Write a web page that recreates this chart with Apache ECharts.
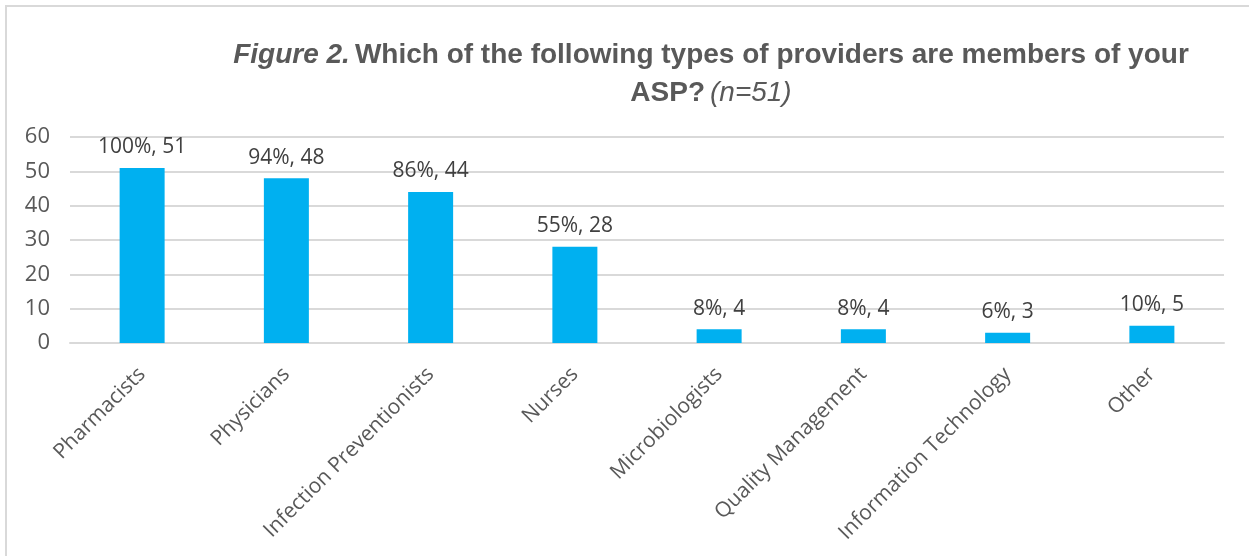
<!DOCTYPE html>
<html>
<head>
<meta charset="utf-8">
<script src="https://cdn.jsdelivr.net/npm/echarts@6/dist/echarts.min.js"></script>
<style>
  html, body { margin: 0; padding: 0; background: #fff; }
  #frame {
    position: absolute; left: 5px; top: 5px; width: 1244px; height: 551px;
    border-left: 2px solid #d9d9d9; border-top: 2px solid #d9d9d9;
    box-sizing: border-box;
  }
  #chart { position: absolute; left: 0; top: 0; width: 1249px; height: 556px; }
</style>
</head>
<body>
<div id="frame"></div>
<div id="chart"></div>
<script>
const categories = ['Pharmacists', 'Physicians', 'Infection Preventionists', 'Nurses',
  'Microbiologists', 'Quality Management', 'Information Technology', 'Other'];
const counts = [51, 48, 44, 28, 4, 4, 3, 5];
const percents = [100, 94, 86, 55, 8, 8, 6, 10];
const yTicks = { min: 0, max: 60, interval: 10 };

const titleFont = 'Liberation Sans Narrow, Liberation Sans, sans-serif';
const chart = echarts.init(document.getElementById('chart'));
chart.setOption({
  animation: false,
  backgroundColor: 'transparent',
  title: {
    text: '{fi|Figure 2.} {b|Which of the following types of providers are members of your}\n{b|ASP?} {i|(n=51)}',
    left: 706,
    textAlign: 'center',
    top: 31,
    textStyle: {
      rich: {
        fi: { fontFamily: titleFont, fontSize: 28, fontWeight: 'bold', fontStyle: 'italic', color: '#595959', lineHeight: 38 },
        b: { fontFamily: titleFont, fontSize: 28, fontWeight: 'bold', color: '#595959', lineHeight: 38 },
        i: { fontFamily: titleFont, fontSize: 28, fontWeight: 'normal', fontStyle: 'italic', color: '#595959', lineHeight: 38 }
      }
    }
  },
  grid: { left: 70, right: 25, top: 137, bottom: 213 },
  xAxis: {
    type: 'category',
    data: categories,
    axisLine: { lineStyle: { color: '#d9d9d9', width: 2 } },
    axisTick: { show: false },
    axisLabel: {
      rotate: 45,
      interval: 0,
      margin: 28,
      color: '#595959',
      fontSize: 21,
      fontFamily: 'Open Sans, sans-serif'
    }
  },
  yAxis: {
    type: 'value',
    min: yTicks.min,
    max: yTicks.max,
    interval: yTicks.interval,
    axisLine: { show: false },
    axisTick: { show: false },
    splitLine: { lineStyle: { color: '#d9d9d9', width: 2 } },
    axisLabel: { color: '#595959', fontSize: 22, fontFamily: 'Open Sans, sans-serif', margin: 20 }
  },
  series: [{
    type: 'bar',
    data: counts,
    barWidth: 45,
    itemStyle: { color: '#00b0f0' },
    label: {
      show: true,
      position: 'top',
      distance: 10,
      color: '#404040',
      fontSize: 21,
      fontFamily: 'Open Sans, sans-serif',
      formatter: (p) => percents[p.dataIndex] + '%, ' + p.value
    }
  }]
});
</script>
</body>
</html>
